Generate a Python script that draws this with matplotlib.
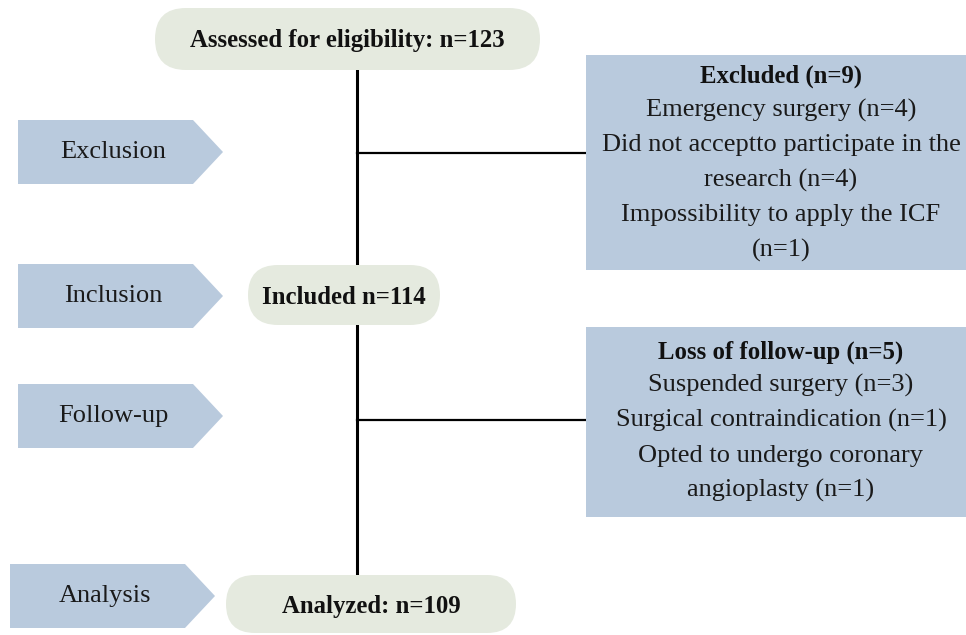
# participant flow diagram

import matplotlib.pyplot as plt
from matplotlib.patches import FancyBboxPatch, Polygon

plt.rcParams['font.family'] = ['Liberation Serif', 'DejaVu Serif']

W, H = 966, 635  # px

blue = '#b9cadd'
pill = '#e5eadf'

# stages on the left
stages = ['Exclusion', 'Inclusion', 'Follow-up', 'Analysis']
stage_y = [152, 296, 416, 596]  # centres, px from top

# main flow nodes
nodes = ['Assessed for eligibility: n=123', 'Included n=114', 'Analyzed: n=109']
node_box = [(155, 8, 385, 62), (248, 265, 192, 60), (226, 575, 290, 58)]

# side boxes
excl_title = 'Excluded (n=9)'
excl_lines = ['Emergency surgery (n=4)',
              'Did not acceptto participate in the',
              'research (n=4)',
              'Impossibility to apply the ICF',
              '(n=1)']
loss_title = 'Loss of follow-up (n=5)'
loss_lines = ['Suspended surgery (n=3)',
              'Surgical contraindication (n=1)',
              'Opted to undergo coronary',
              'angioplasty (n=1)']

fig = plt.figure(figsize=(W / 100, H / 100), dpi=100)
ax = fig.add_axes([0, 0, 1, 1])
ax.set_xlim(0, W)
ax.set_ylim(H, 0)
ax.axis('off')

# connecting lines
ax.plot([357, 357], [70, 575], color='black', lw=2.2, zorder=1)
ax.plot([357, 588], [153, 153], color='black', lw=1.6, zorder=1)
ax.plot([357, 588], [420, 420], color='black', lw=1.6, zorder=1)

# stage arrows
for lab, yc in zip(stages, stage_y):
    x0 = 18 if lab != 'Analysis' else 10
    half = 32
    pts = [(x0, yc - half), (x0 + 175, yc - half), (x0 + 205, yc),
           (x0 + 175, yc + half), (x0, yc + half)]
    ax.add_patch(Polygon(pts, closed=True, fc=blue, ec='none', zorder=2))
    ax.text(x0 + 95, yc, lab, ha='center', va='center', fontsize=19,
            color='#1a1a1a', zorder=3)

# main nodes
for lab, (x, y, w, h) in zip(nodes, node_box):
    ax.add_patch(FancyBboxPatch((x, y), w, h,
                                boxstyle='round,pad=0,rounding_size=%d' % (h // 2),
                                fc=pill, ec='none', zorder=2))
    ax.text(x + w / 2, y + h / 2 + 2, lab, ha='center', va='center',
            fontsize=17.8, fontweight='bold', color='#111111', zorder=3)

# side boxes
ax.add_patch(plt.Rectangle((586, 55), 400, 215, fc=blue, ec='none', zorder=2))
ax.add_patch(plt.Rectangle((586, 327), 400, 190, fc=blue, ec='none', zorder=2))

ax.text(781, 76, excl_title, ha='center', va='center', fontsize=17.8,
        fontweight='bold', color='#111111', zorder=3)
for i, s in enumerate(excl_lines):
    ax.text(781, 110 + i * 35, s, ha='center', va='center', fontsize=19,
            color='#1a1a1a', zorder=3)

ax.text(781, 352, loss_title, ha='center', va='center', fontsize=17.8,
        fontweight='bold', color='#111111', zorder=3)
for i, s in enumerate(loss_lines):
    ax.text(781, 385 + i * 35.3, s, ha='center', va='center', fontsize=19,
            color='#1a1a1a', zorder=3)

fig.savefig('out.png', dpi=100, facecolor='white')
